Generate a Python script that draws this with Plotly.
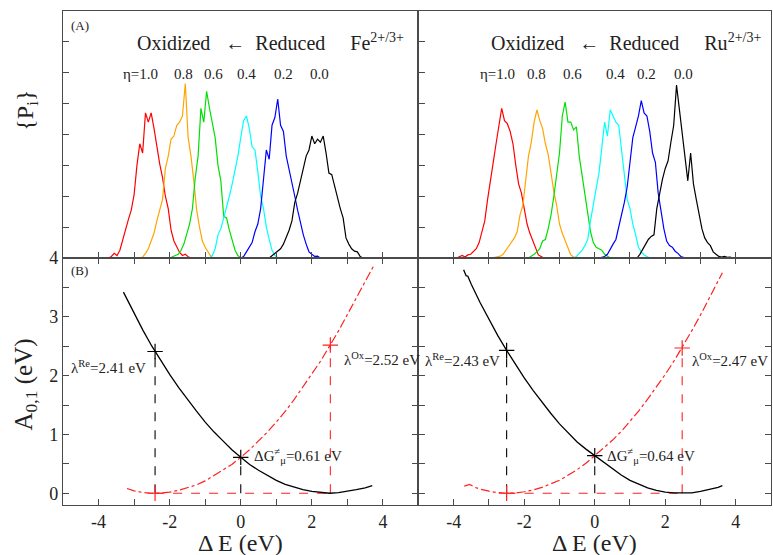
import plotly.graph_objects as go

# ---------------- data ----------------
bin_width = 0.08
eta_labels = ["η=1.0", "0.8", "0.6", "0.4", "0.2", "0.0"]
hist_colors = ["#ff0000", "#ffa500", "#00e000", "#00ffff", "#0000ff", "#000000"]

# Fe2+/3+ energy-gap histograms (first bin centre, counts)
fe_starts = [-3.72, -2.84, -2.00, -0.88, 0.00, 0.80]
fe_eta10 = [0.0, 0.05, 0.15, 0.08, 0.25, 0.6, 0.95, 1.25, 1.55, 2.05, 3.0, 3.7, 3.4, 4.7,
            4.4, 4.7, 4.2, 3.6, 3.05, 2.6, 2.0, 1.6, 0.9, 0.55, 0.35, 0.18, 0.08, 0.12, 0.04, 0.0]
fe_eta08 = [0.0, 0.03, 0.15, 0.3, 0.55, 0.8, 1.2, 1.6, 1.9, 2.9, 3.3, 3.85, 3.95, 4.3, 4.4,
            4.6, 5.65, 3.9, 3.3, 2.5, 1.55, 1.0, 0.55, 0.35, 0.2, 0.05, 0.0]
fe_eta06 = [0.0, 0.03, 0.08, 0.12, 0.25, 0.45, 0.8, 1.1, 1.6, 2.6, 3.3, 4.85, 4.4, 5.4,
            4.85, 4.4, 3.9, 3.0, 2.5, 1.35, 1.3, 0.9, 0.55, 0.25, 0.08, 0.0]
fe_eta04 = [0.0, 0.08, 0.3, 0.75, 0.95, 1.3, 1.6, 2.0, 2.4, 2.8, 3.3, 3.9, 4.45, 4.6, 4.2,
            3.6, 3.5, 2.8, 2.0, 1.6, 1.0, 0.6, 0.25, 0.08, 0.02, 0.0]
fe_eta02 = [0.0, 0.05, 0.2, 0.35, 0.5, 0.85, 1.1, 1.6, 2.6, 3.5, 3.2, 4.3, 4.55, 5.15, 4.3,
            4.1, 3.3, 2.9, 2.5, 2.0, 1.55, 1.1, 0.75, 0.45, 0.2, 0.12, 0.05, 0.06, 0.0]
fe_eta00 = [0.0, 0.08, 0.15, 0.25, 0.3, 0.45, 0.65, 0.9, 1.2, 1.8, 2.1, 2.5, 2.9, 3.3, 3.5,
            3.95, 3.7, 3.85, 3.75, 3.95, 3.4, 2.75, 2.7, 2.3, 1.95, 1.6, 1.3, 0.65, 0.45,
            0.3, 0.22, 0.2, 0.05, 0.0]

# Ru2+/3+ energy-gap histograms
ru_starts = [-3.92, -2.92, -1.88, -0.60, 0.12, 1.20]
ru_eta10 = [0.0, 0.05, 0.08, 0.03, 0.1, 0.12, 0.2, 0.3, 0.5, 0.85, 1.2, 1.9, 2.45, 3.1, 3.7,
            4.3, 4.85, 4.45, 4.35, 4.1, 3.7, 3.0, 2.4, 2.1, 1.65, 1.1, 0.8, 0.55, 0.3, 0.1,
            0.05, 0.0]
ru_eta08 = [0.0, 0.02, 0.05, 0.06, 0.12, 0.25, 0.35, 0.5, 0.65, 0.85, 1.4, 1.7, 2.6, 3.3,
            3.75, 4.4, 4.8, 4.45, 4.2, 3.7, 3.35, 2.7, 2.15, 1.7, 1.1, 0.8, 0.55, 0.3, 0.1,
            0.03, 0.0]
ru_eta06 = [0.0, 0.05, 0.12, 0.2, 0.3, 0.55, 0.6, 0.95, 1.4, 2.0, 2.8, 3.4, 4.6, 5.05, 4.4,
            4.4, 4.15, 4.25, 3.3, 2.7, 2.1, 1.35, 0.85, 0.5, 0.35, 0.3, 0.25, 0.12, 0.05, 0.0]
ru_eta04 = [0.0, 0.05, 0.15, 0.25, 0.4, 0.6, 1.2, 1.8, 2.25, 2.75, 3.5, 4.4, 3.95, 4.8, 4.6,
            4.4, 4.3, 3.5, 2.6, 1.9, 1.6, 1.1, 0.75, 0.35, 0.2, 0.1, 0.05, 0.0]
ru_eta02 = [0.0, 0.02, 0.05, 0.12, 0.3, 0.45, 0.6, 1.0, 1.3, 1.8, 2.3, 3.2, 3.9, 4.25, 4.6,
            5.1, 4.7, 4.6, 4.1, 3.4, 3.1, 2.1, 1.5, 0.95, 0.55, 0.4, 0.35, 0.22, 0.15, 0.05,
            0.02, 0.0]
ru_eta00 = [0.0, 0.12, 0.28, 0.45, 0.6, 0.7, 0.75, 1.6, 2.1, 2.55, 2.9, 3.15, 3.75, 4.3, 5.6,
            4.8, 4.2, 3.4, 2.5, 3.4, 2.4, 1.9, 1.4, 0.95, 0.65, 0.5, 0.4, 0.2, 0.12, 0.05,
            0.03, 0.05, 0.02, 0.03, 0.0]

fe_hists = [fe_eta10, fe_eta08, fe_eta06, fe_eta04, fe_eta02, fe_eta00]
ru_hists = [ru_eta10, ru_eta08, ru_eta06, ru_eta04, ru_eta02, ru_eta00]

# Free-energy curves A_0 (black) and A_1 (red) vs energy gap
fe_de_a0 = [-3.3, -3.0, -2.75, -2.5, -2.25, -2.0, -1.75, -1.5, -1.25, -1.0, -0.75, -0.5, -0.25,
            0.0, 0.25, 0.5, 0.75, 1.0, 1.25, 1.5, 1.75, 2.0, 2.25, 2.5, 2.75, 3.0, 3.25, 3.5, 3.7]
fe_a0 = [3.42, 3.06, 2.77, 2.50, 2.25, 2.02, 1.80, 1.59, 1.40, 1.21, 1.04, 0.89, 0.74,
         0.61, 0.49, 0.39, 0.30, 0.22, 0.15, 0.10, 0.06, 0.03, 0.01, 0.0, 0.01, 0.03, 0.06, 0.09, 0.13]
fe_de_a1 = [-3.2, -3.0, -2.75, -2.5, -2.25, -2.0, -1.75, -1.5, -1.25, -1.0, -0.75, -0.5, -0.25,
            0.0, 0.25, 0.5, 0.75, 1.0, 1.25, 1.5, 1.75, 2.0, 2.25, 2.5, 2.75, 3.0, 3.25, 3.5, 3.75]
fe_a1 = [0.08, 0.04, 0.012, 0.0, 0.003, 0.018, 0.05, 0.09, 0.14, 0.21, 0.30, 0.39, 0.49,
         0.61, 0.74, 0.89, 1.04, 1.21, 1.39, 1.59, 1.80, 2.03, 2.25, 2.50, 2.76, 3.04, 3.33, 3.60, 3.88]

ru_de_a0 = [-3.72, -3.65, -3.6, -3.55, -3.5, -3.25, -3.0, -2.75, -2.5, -2.25, -2.0, -1.75, -1.5,
            -1.25, -1.0, -0.75, -0.5, -0.25, 0.0, 0.25, 0.5, 0.75, 1.0, 1.25, 1.5, 1.75, 2.0,
            2.25, 2.5, 2.75, 3.0, 3.25, 3.5, 3.62]
ru_a0 = [3.80, 3.70, 3.69, 3.62, 3.55, 3.24, 2.95, 2.68, 2.43, 2.19, 1.96, 1.75, 1.55,
         1.36, 1.18, 1.02, 0.87, 0.75, 0.64, 0.52, 0.41, 0.31, 0.22, 0.15, 0.09, 0.05, 0.02,
         0.006, 0.0, 0.006, 0.03, 0.06, 0.10, 0.13]
ru_de_a1 = [-3.7, -3.55, -3.4, -3.25, -3.0, -2.75, -2.5, -2.25, -2.0, -1.75, -1.5, -1.25, -1.0,
            -0.75, -0.5, -0.25, 0.0, 0.25, 0.5, 0.75, 1.0, 1.25, 1.5, 1.75, 2.0, 2.25, 2.5,
            2.75, 3.0, 3.25, 3.5, 3.62]
ru_a1 = [0.12, 0.15, 0.10, 0.07, 0.035, 0.01, 0.0, 0.005, 0.025, 0.055, 0.10, 0.155, 0.22,
         0.31, 0.40, 0.51, 0.64, 0.76, 0.90, 1.05, 1.22, 1.40, 1.60, 1.80, 2.02, 2.25, 2.50,
         2.76, 3.03, 3.32, 3.61, 3.75]

# reorganisation energies and activation free energies (eV)
fe_lambda_re, fe_lambda_ox, fe_dg = 2.41, 2.52, 0.61
ru_lambda_re, ru_lambda_ox, ru_dg = 2.43, 2.47, 0.64
fe_de_re, fe_de_ox = -2.41, 2.52
ru_de_re, ru_de_ox = -2.50, 2.48

x_tick_vals = [-4, -2, 0, 2, 4]
x_tick_text = ["-4", "-2", "0", "2", "4"]
x_minor_vals = [-3, -1, 1, 3]
y_tick_vals = [0, 1, 2, 3, 4]
y_tick_text = ["0", "1", "2", "3", "4"]
y_minor_vals = [0.5, 1.5, 2.5, 3.5]

# ---------------- figure ----------------
SERIF = "Liberation Serif"
AX = "#4a4a4a"
fig = go.Figure()

for hists, starts, xa, ya in [(fe_hists, fe_starts, "x", "y"), (ru_hists, ru_starts, "x2", "y2")]:
    for counts, start, color in zip(hists, starts, hist_colors):
        xs = [start + i * bin_width for i in range(len(counts))]
        fig.add_trace(go.Scatter(x=xs, y=counts, mode="lines", xaxis=xa, yaxis=ya,
                                 line=dict(color=color, width=1.2), showlegend=False,
                                 hoverinfo="skip"))

panels = [
    (fe_de_a0, fe_a0, fe_de_a1, fe_a1, fe_lambda_re, fe_lambda_ox, fe_dg, fe_de_re, fe_de_ox, "x3", "y3"),
    (ru_de_a0, ru_a0, ru_de_a1, ru_a1, ru_lambda_re, ru_lambda_ox, ru_dg, ru_de_re, ru_de_ox, "x4", "y4"),
]
for de0, a0, de1, a1, lre, lox, dg, xre, xox, xa, ya in panels:
    kw = dict(xaxis=xa, yaxis=ya, showlegend=False, hoverinfo="skip")
    # guide lines
    fig.add_trace(go.Scatter(x=[xre, xre], y=[0, lre], mode="lines",
                             line=dict(color="black", width=1.1, dash="dash"), **kw))
    fig.add_trace(go.Scatter(x=[0, 0], y=[0, dg], mode="lines",
                             line=dict(color="black", width=1.1, dash="dash"), **kw))
    fig.add_trace(go.Scatter(x=[xox, xox], y=[0, lox], mode="lines",
                             line=dict(color="#ff2020", width=1.1, dash="dash"), **kw))
    fig.add_trace(go.Scatter(x=[xre, xox], y=[0, 0], mode="lines",
                             line=dict(color="#ff2020", width=1.1, dash="dash"), **kw))
    # free-energy curves
    fig.add_trace(go.Scatter(x=de0, y=a0, mode="lines", line=dict(color="black", width=1.3), **kw))
    fig.add_trace(go.Scatter(x=de1, y=a1, mode="lines",
                             line=dict(color="#ff2020", width=1.2, dash="dashdot"), **kw))
    # markers
    fig.add_trace(go.Scatter(x=[xre, 0], y=[lre, dg], mode="markers",
                             marker=dict(symbol="cross-thin", size=11,
                                         line=dict(color="black", width=1.2)), **kw))
    fig.add_trace(go.Scatter(x=[xox, xre], y=[lox, 0], mode="markers",
                             marker=dict(symbol="cross-thin", size=11,
                                         line=dict(color="#ff2020", width=1.2)), **kw))

split = 356 / 709
minor_style = dict(ticks="inside", ticklen=6, tickcolor=AX, tickwidth=1.2, showgrid=False)


def xaxis(domain, anchor, labels, mirror):
    return dict(domain=domain, anchor=anchor, range=[-5, 5], tickvals=x_tick_vals,
                ticktext=x_tick_text, showticklabels=labels, ticks="inside", ticklen=6,
                tickcolor=AX, tickwidth=1.2, showline=True, linecolor=AX, linewidth=1.2,
                mirror=mirror, showgrid=False, zeroline=False,
                minor=dict(tickmode="array", tickvals=x_minor_vals, **minor_style),
                tickfont=dict(family=SERIF, size=18, color="#222"))


def yaxis(domain, anchor, rng, vals, text, minor_vals, labels, mirror):
    return dict(domain=domain, anchor=anchor, range=rng, tickvals=vals, ticktext=text,
                showticklabels=labels, ticks="inside", ticklen=6, tickcolor=AX, tickwidth=1.2,
                showline=True, linecolor=AX, linewidth=1.2, mirror=mirror, showgrid=False,
                zeroline=False,
                minor=dict(tickmode="array", tickvals=minor_vals, **minor_style),
                tickfont=dict(family=SERIF, size=18, color="#222"))


top_y_vals = [1, 2, 3, 4, 5, 6, 7]
fig.update_layout(
    width=773, height=555,
    margin=dict(l=63, r=1, t=9, b=50),
    paper_bgcolor="white", plot_bgcolor="white",
    font=dict(family=SERIF),
    xaxis=xaxis([0, split], "y", False, True),
    xaxis2=xaxis([split, 1], "y2", False, True),
    xaxis3=xaxis([0, split], "y3", True, "ticks"),
    xaxis4=xaxis([split, 1], "y4", True, "ticks"),
    yaxis=yaxis([0.5, 1], "x", [0, 8], top_y_vals, None, [], False, True),
    yaxis2=yaxis([0.5, 1], "x2", [0, 8], top_y_vals, None, [], False, True),
    yaxis3=yaxis([0, 0.5], "x3", [-0.2, 4], y_tick_vals, y_tick_text, y_minor_vals, True, "ticks"),
    yaxis4=yaxis([0, 0.5], "x4", [-0.2, 4], y_tick_vals, y_tick_text, y_minor_vals, False, "ticks"),
)

NB = "\u00a0"
ann = []
tf = dict(family=SERIF, color="#222")

# panel tags
ann.append(dict(text="(A)", xref="x domain", yref="y domain", x=0.017, y=0.94,
                xanchor="left", yanchor="middle", showarrow=False, font=dict(size=13, **tf)))
ann.append(dict(text="(B)", xref="x3 domain", yref="y3 domain", x=0.017, y=0.95,
                xanchor="left", yanchor="middle", showarrow=False, font=dict(size=13, **tf)))

# headline of each histogram panel
for ion, xr, yr, x0 in [("Fe", "x domain", "y domain", 0.202), ("Ru", "x2 domain", "y2 domain", 0.2)]:
    txt = f"Oxidized{NB*2} ←{NB*2}Reduced{NB*5}{ion}<sup>2+/3+</sup>"
    ann.append(dict(text=txt, xref=xr, yref=yr, x=x0, y=0.875, xanchor="left",
                    yanchor="middle", showarrow=False, font=dict(size=20, **tf)))

# eta labels above the histograms
fe_eta_pos = [-2.81, -1.60, -0.76, 0.15, 1.20, 2.21]
ru_eta_pos = [-2.76, -1.64, -0.62, 0.59, 1.47, 2.53]
for lab, px_fe, px_ru in zip(eta_labels, fe_eta_pos, ru_eta_pos):
    ann.append(dict(text=lab, xref="x", yref="y", x=px_fe, y=5.95, showarrow=False,
                    font=dict(size=15, **tf)))
    ann.append(dict(text=lab, xref="x2", yref="y2", x=px_ru, y=5.95, showarrow=False,
                    font=dict(size=15, **tf)))

# reorganisation / activation energy labels
for lre, lox, dg, xa, ya, pre, pox, pdg in [
    (fe_lambda_re, fe_lambda_ox, fe_dg, "x3", "y3", (-2.62, 2.14), (2.84, 2.29), (0.32, 0.64)),
    (ru_lambda_re, ru_lambda_ox, ru_dg, "x4", "y4", (-2.64, 2.26), (2.70, 2.26), (0.30, 0.64)),
]:
    ann.append(dict(text=f"λ<sup>Re</sup>={lre:.2f} eV", xref=xa, yref=ya, x=pre[0], y=pre[1],
                    xanchor="right", showarrow=False, font=dict(size=15, **tf)))
    ann.append(dict(text=f"λ<sup>Ox</sup>={lox:.2f} eV", xref=xa, yref=ya, x=pox[0], y=pox[1],
                    xanchor="left", showarrow=False, font=dict(size=15, **tf)))
    ann.append(dict(text=f"ΔG<sup>≠</sup><sub>μ</sub>={dg:.2f} eV", xref=xa, yref=ya,
                    x=pdg[0], y=pdg[1], xanchor="left", showarrow=False,
                    font=dict(size=15, **tf)))

# axis titles
ann.append(dict(text="{P<sub>i</sub>}", xref="paper", yref="paper", x=-0.051, y=0.80,
                xanchor="center", yanchor="middle", textangle=-90, showarrow=False,
                font=dict(size=24, **tf)))
ann.append(dict(text="A<sub>0,1</sub> (eV)", xref="paper", yref="paper", x=-0.053, y=0.245,
                xanchor="center", yanchor="middle", textangle=-90, showarrow=False,
                font=dict(size=25, **tf)))
for xr in ["x3 domain", "x4 domain"]:
    ann.append(dict(text="Δ E (eV)", xref=xr, yref="paper", x=0.5, y=-0.076,
                    xanchor="center", yanchor="middle", showarrow=False,
                    font=dict(size=24, **tf)))

fig.update_layout(annotations=ann)
fig.write_html("out.html")
